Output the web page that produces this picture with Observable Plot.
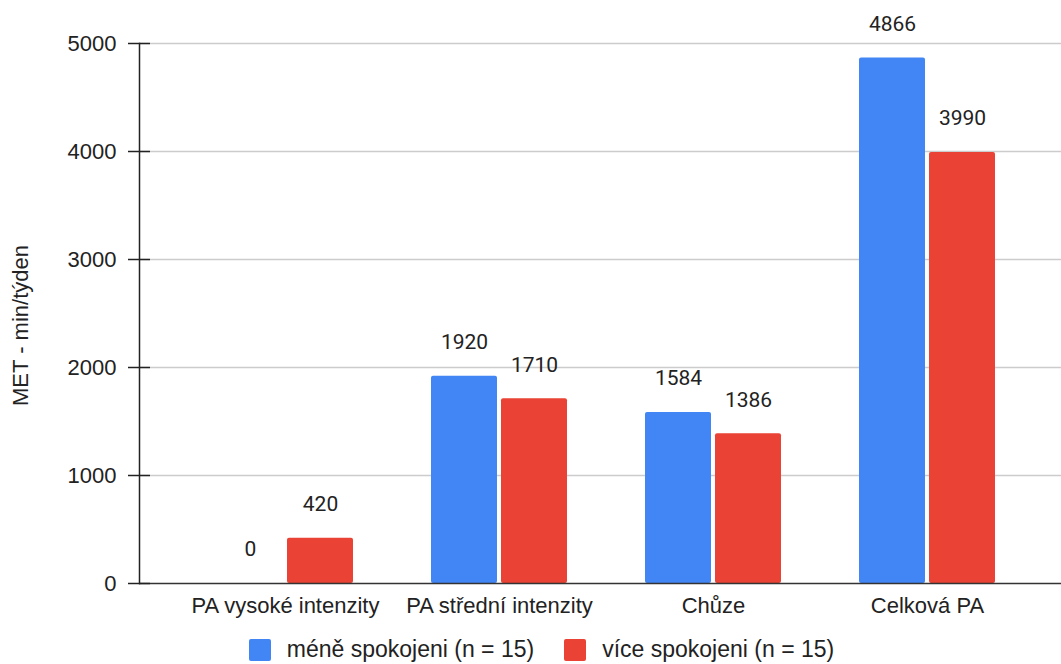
<!DOCTYPE html>
<html><head><meta charset="utf-8">
<script src="https://cdn.jsdelivr.net/npm/d3@7"></script>
<script src="https://cdn.jsdelivr.net/npm/@observablehq/plot@0.6"></script>
<style>
html,body{margin:0;background:#fff;font-family:"Liberation Sans",Arial,sans-serif;overflow:hidden;}
#legend{display:flex;justify-content:center;align-items:flex-end;height:34px;box-sizing:border-box;padding-bottom:1px;font-size:23px;color:#222;padding-left:22px;}
.item{display:flex;align-items:center;margin:0 15px;}
.sw{width:22px;height:22px;border-radius:2px;margin-right:16px;}
</style></head>
<body>
<div id="chart"></div>
<div id="legend"></div>
<script>
const categories = ["PA vysoké intenzity", "PA střední intenzity", "Chůze", "Celková PA"];
const seriesNames = ["méně spokojeni (n = 15)", "více spokojeni (n = 15)"];
const lessSatisfied = [0, 1920, 1584, 4866];
const moreSatisfied = [420, 1710, 1386, 3990];
const colors = ["#4285F4", "#EA4335"];
const yTicks = [0, 1000, 2000, 3000, 4000, 5000];
const yTitle = "MET - min/týden";

const blue = categories.map((c, i) => ({cat: c, v: lessSatisfied[i]}));
const red = categories.map((c, i) => ({cat: c, v: moreSatisfied[i]}));

const font = "Liberation Sans, Arial, sans-serif";
const plot = Plot.plot({
  width: 1061, height: 630,
  marginLeft: 139, marginRight: 0, marginTop: 43, marginBottom: 47,
  style: {fontFamily: font, fontSize: "22px", color: "#222", background: "#fff", overflow: "visible"},
  x: {type: "band", domain: categories, range: [251, 961], paddingInner: 0.692, paddingOuter: 0, align: 0.5, label: null},
  y: {domain: [0, 5000], label: null},
  marks: [
    Plot.ruleY(yTicks.slice(1), {stroke: "#cccccc", strokeWidth: 1.5}),
    Plot.barY(blue, {x: "cat", y: "v", fill: colors[0], dx: -35, rx: 2}),
    Plot.barY(red, {x: "cat", y: "v", fill: colors[1], dx: 35, rx: 2}),
    Plot.text(blue, {x: "cat", y: "v", text: d => String(d.v), dx: -35, dy: -34, fontSize: 21, fontFamily: "Roboto", fill: "#222"}),
    Plot.text(red, {x: "cat", y: "v", text: d => String(d.v), dx: 35, dy: -34, fontSize: 21, fontFamily: "Roboto", fill: "#222"}),
    Plot.ruleY([0], {stroke: "#333", strokeWidth: 1.5}),
    Plot.frame({anchor: "left", stroke: "#222", strokeWidth: 1.5}),
    Plot.axisY({ticks: yTicks, tickSize: 22, dx: 11, tickPadding: 12, stroke: "#222", strokeWidth: 1.5, fontSize: 22, label: null, tickFormat: d => String(d)}),
    Plot.axisX({tickSize: 0, tickPadding: 14, fontSize: 22, label: null}),
    Plot.text([yTitle], {frameAnchor: "left", textAnchor: "middle", rotate: -90, dx: -119, dy: 12, fontSize: 22, fill: "#222"})
  ]
});
document.getElementById("chart").appendChild(plot);

const lg = document.getElementById("legend");
seriesNames.forEach((n, i) => {
  const it = document.createElement("div"); it.className = "item";
  const sw = document.createElement("div"); sw.className = "sw"; sw.style.background = colors[i];
  const tx = document.createElement("span"); tx.textContent = n;
  it.appendChild(sw); it.appendChild(tx); lg.appendChild(it);
});
</script>
</body></html>
